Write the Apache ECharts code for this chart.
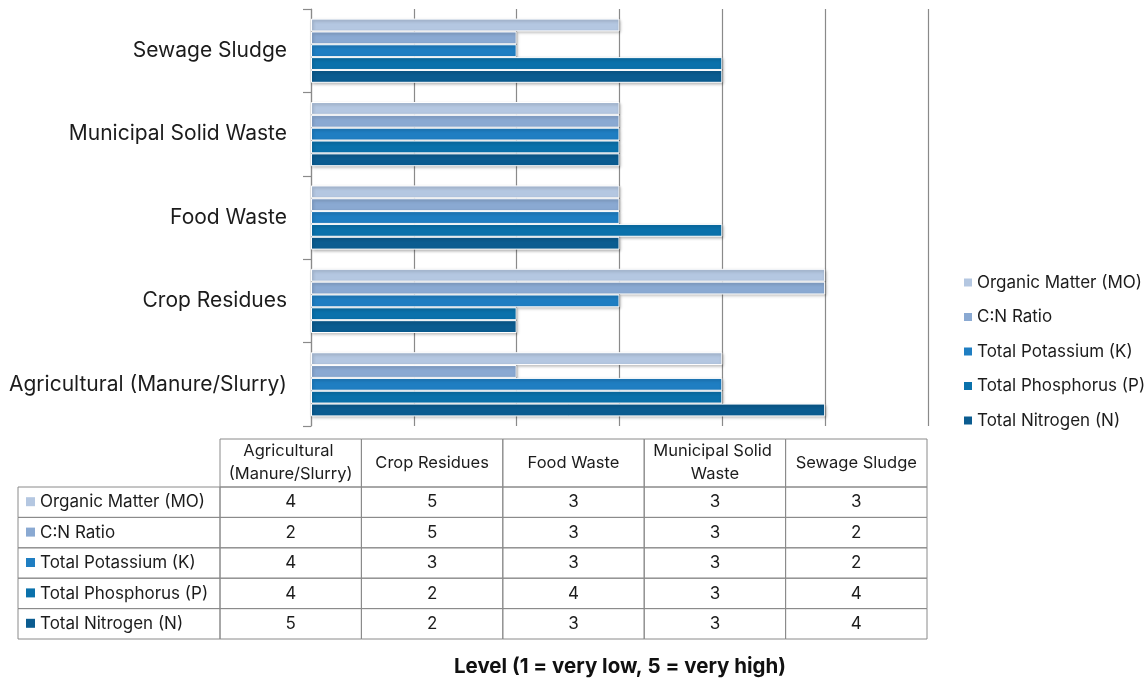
<!DOCTYPE html>
<html>
<head>
<meta charset="utf-8">
<script src="https://cdn.jsdelivr.net/npm/echarts@6/dist/echarts.min.js"></script>
<style>
  html, body { margin: 0; padding: 0; background: #ffffff; }
  #chart { width: 1146px; height: 684px; }
</style>
</head>
<body>
<div id="chart"></div>
<script>
// Feedstock categories (bottom to top on the bar axis, left to right in the table)
const categories = ['Agricultural (Manure/Slurry)', 'Crop Residues', 'Food Waste', 'Municipal Solid Waste', 'Sewage Sludge'];

// Parameter levels per category (1 = very low, 5 = very high)
const organicMatter = [4, 5, 3, 3, 3];
const cnRatio       = [2, 5, 3, 3, 2];
const potassium     = [4, 3, 3, 3, 2];
const phosphorus    = [4, 2, 4, 3, 4];
const nitrogen      = [5, 2, 3, 3, 4];

const seriesNames = ['Organic Matter (MO)', 'C:N Ratio', 'Total Potassium (K)', 'Total Phosphorus (P)', 'Total Nitrogen (N)'];
const seriesData = [organicMatter, cnRatio, potassium, phosphorus, nitrogen];
const seriesColors = ['#b4c7e1', '#8aa9d2', '#1f7ec2', '#0a71ab', '#0b5c90'];

const titleText = 'Level (1 = very low, 5 = very high)';

const FONT = 'Inter, "Liberation Sans", sans-serif';
const TEXT_COLOR = '#1c1c1c';
const LINE_COLOR = '#8a8a8a';

const chart = echarts.init(document.getElementById('chart'), null, { renderer: 'canvas' });

// Data table under the plot, built from the same arrays
function buildTable() {
  const els = [];
  const labelLeft = 18, colLeft = 220, colW = 141.4;
  const headTop = 439, headBottom = 487, rowH = 30.4;
  const stroke = { stroke: LINE_COLOR, lineWidth: 1, fill: null };

  // header cells
  categories.forEach((c, i) => {
    const x = colLeft + i * colW;
    els.push({ type: 'rect', shape: { x: x, y: headTop, width: colW, height: headBottom - headTop }, style: stroke, silent: true });
    els.push({
      type: 'text', x: x + colW / 2, y: (headTop + headBottom) / 2, silent: true,
      style: { text: c, width: colW - 8, overflow: 'break', align: 'center', verticalAlign: 'middle',
               fontSize: 16.5, lineHeight: 23, fontFamily: FONT, fill: TEXT_COLOR }
    });
  });

  // data rows
  seriesNames.forEach((name, r) => {
    const y = headBottom + r * rowH;
    els.push({ type: 'rect', shape: { x: labelLeft, y: y, width: colLeft - labelLeft, height: rowH }, style: stroke, silent: true });
    els.push({ type: 'rect', shape: { x: 26, y: y + rowH / 2 - 5, width: 9, height: 9 }, style: { fill: seriesColors[r] }, silent: true });
    els.push({
      type: 'text', x: 40, y: y + rowH / 2, silent: true,
      style: { text: name, align: 'left', verticalAlign: 'middle', fontSize: 17, fontFamily: FONT, fill: TEXT_COLOR }
    });
    seriesData[r].forEach((v, i) => {
      const x = colLeft + i * colW;
      els.push({ type: 'rect', shape: { x: x, y: y, width: colW, height: rowH }, style: stroke, silent: true });
      els.push({
        type: 'text', x: x + colW / 2, y: y + rowH / 2, silent: true,
        style: { text: String(v), align: 'center', verticalAlign: 'middle', fontSize: 17, fontFamily: FONT, fill: TEXT_COLOR }
      });
    });
  });

  // axis title below the table
  els.push({
    type: 'text', x: 620, y: 667, silent: true,
    style: { text: titleText, align: 'center', verticalAlign: 'middle', fontSize: 20.5, fontWeight: 'bold', fontFamily: FONT, fill: '#111111' }
  });
  return els;
}

const option = {
  backgroundColor: '#ffffff',
  animation: false,
  textStyle: { fontFamily: FONT },
  grid: { left: 311, right: 218, top: 9, bottom: 258, containLabel: false },
  legend: {
    orient: 'vertical',
    left: 957,
    top: 269,
    itemWidth: 10,
    itemHeight: 10,
    itemGap: 17.5,
    icon: 'rect',
    data: seriesNames,
    textStyle: { fontSize: 17, color: TEXT_COLOR, fontFamily: FONT, lineHeight: 17, padding: [0, 0, 0, -1] }
  },
  xAxis: {
    type: 'value',
    min: 0,
    max: 6,
    interval: 1,
    axisLine: { show: false },
    axisTick: { show: false },
    axisLabel: { show: false },
    splitLine: { show: true, lineStyle: { color: LINE_COLOR, width: 1.2 } }
  },
  yAxis: {
    type: 'category',
    data: categories,
    axisLine: { show: true, lineStyle: { color: LINE_COLOR, width: 1.2 } },
    axisTick: { show: true, length: 8, lineStyle: { color: LINE_COLOR, width: 1.2 } },
    axisLabel: { fontSize: 21, color: TEXT_COLOR, fontFamily: FONT, margin: 24 }
  },
  series: seriesNames.map((name, i) => ({
    name: name,
    type: 'bar',
    data: seriesData[i],
    barGap: '0%',
    barCategoryGap: '23%',
    itemStyle: {
      color: seriesColors[i],
      borderColor: '#ffffff',
      borderWidth: 1,
      shadowColor: 'rgba(0,0,0,0.3)',
      shadowBlur: 3,
      shadowOffsetX: 1,
      shadowOffsetY: 1.5
    }
  })),
  graphic: buildTable()
};

chart.setOption(option);
</script>
</body>
</html>
